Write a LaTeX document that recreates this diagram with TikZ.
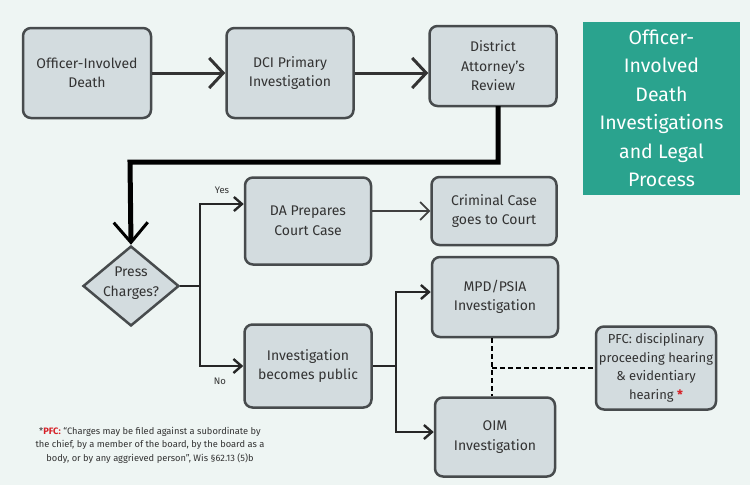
\documentclass[tikz,border=0pt]{standalone}
\usepackage{fontspec}
\setmainfont{Fira Sans}
\usetikzlibrary{shapes.geometric,arrows.meta}
\definecolor{bg}{HTML}{EEF5F3}
\definecolor{boxf}{HTML}{D3DCDF}
\definecolor{boxd}{HTML}{474B4D}
\definecolor{teal}{HTML}{2AA38E}
\definecolor{txt}{HTML}{333333}
\definecolor{red}{HTML}{D62027}
\begin{document}
\begin{tikzpicture}[x=1pt,y=-1pt,
 box/.style={draw=boxd,line width=2.5pt,fill=boxf,rounded corners=8pt,align=center,text=txt,font=\fontsize{14}{19.5}\selectfont,inner sep=0pt},
 conn/.style={line width=2.8pt,draw=black!85},
 arr/.style={conn,-{Straight Barb[length=8pt,width=14pt,line width=2.4pt]}}]
\fill[bg] (0,0) rectangle (750,485);
\useasboundingbox (0,0) rectangle (750,485);
\node[box,minimum width=128pt,minimum height=90pt] (oid) at (87,73) {Officer-Involved\\Death};
\node[box,minimum width=127pt,minimum height=90pt] (dci) at (290,73) {DCI Primary\\Investigation};
\node[box,minimum width=127pt,minimum height=80pt] (dar) at (493,66) {District\\Attorney's\\Review};
\node[fill=teal,minimum width=157pt,minimum height=173pt,text=white,align=center,font=\fontsize{19.5}{28.5}\selectfont] (title) at (661.5,108.5) {Officer-\\Involved\\Death\\Investigations\\and Legal\\Process};
\node[box,minimum width=126pt,minimum height=87pt] (dap) at (308,221) {DA Prepares\\Court Case};
\node[box,minimum width=125pt,minimum height=68pt] (ccc) at (494,211) {Criminal Case\\goes to Court};
\node[diamond,draw=boxd,line width=2.5pt,fill=boxf,minimum width=96pt,minimum height=80pt,align=center,text=txt,inner sep=0pt,font=\fontsize{14}{19.5}\selectfont] (press) at (131,286) {};
\node[align=center,text=txt,font=\fontsize{14}{19.5}\selectfont] (presst) at (131,283) {Press\\Charges?};
\node[box,minimum width=126pt,minimum height=80pt] (mpd) at (495,297) {MPD/PSIA\\Investigation};
\node[box,minimum width=127pt,minimum height=83pt] (ibp) at (308,366) {Investigation\\becomes public};
\node[box,minimum width=120pt,minimum height=83pt,font=\fontsize{13}{18.5}\selectfont] (pfc) at (656,368) {PFC: disciplinary\\proceeding hearing\\\& evidentiary\\hearing {\color{red}\bfseries*}};
\node[box,minimum width=120pt,minimum height=79pt] (oim) at (495,437) {OIM\\Investigation};
\node[align=center,text=txt,font=\fontsize{9.3}{13.5}\selectfont] (fn) at (150,445) {*{\color{red}\bfseries PFC:} “Charges may be filed against a subordinate by\\the chief, by a member of the board, by the board as a\\body, or by any aggrieved person”, Wis §62.13 (5)b};
\node[text=txt,font=\fontsize{9.5}{10}\selectfont] (yes) at (222,190) {Yes};
\node[text=txt,font=\fontsize{9.5}{10}\selectfont] (no) at (220,381) {No};
\coordinate (j1) at (200,286);
\coordinate (j2) at (396,366);
\coordinate (dj) at (492,368);
\draw[line width=3pt,draw=black!80,-{Straight Barb[length=14pt,width=30pt,line width=3pt]}] (oid.east) -- (dci.west);
\draw[line width=3pt,draw=black!80,-{Straight Barb[length=14pt,width=30pt,line width=3pt]}] (dci.east) -- (dar.west|-dci.east);
\draw[line width=5pt,-{Straight Barb[length=20pt,width=34pt,line width=3pt]}] (498,106) -- (498,162) -- (130,162) -- (press.north);
\draw[conn] (press.east) -- (j1);
\draw[arr] (200,366) -- (200,204) -- (dap.west|-200,204);
\draw[arr] (j1) -- (200,366) -- (ibp.west);
\draw[line width=1.6pt,draw=black!75,-{Straight Barb[length=9pt,width=18pt,line width=1.6pt]}] (dap.east|-0,211) -- (ccc.west);
\draw[conn] (ibp.east) -- (j2);
\draw[arr] (396,432) -- (396,292) -- (mpd.west|-0,292);
\draw[arr] (j2) -- (396,432) -- (oim.west|-0,432);
\draw[line width=1.8pt,dash pattern=on 5pt off 3pt] (mpd.south-|dj) -- (oim.north-|dj);
\draw[line width=1.8pt,dash pattern=on 5pt off 3pt] (dj) -- (pfc.west);
\end{tikzpicture}
\end{document}
